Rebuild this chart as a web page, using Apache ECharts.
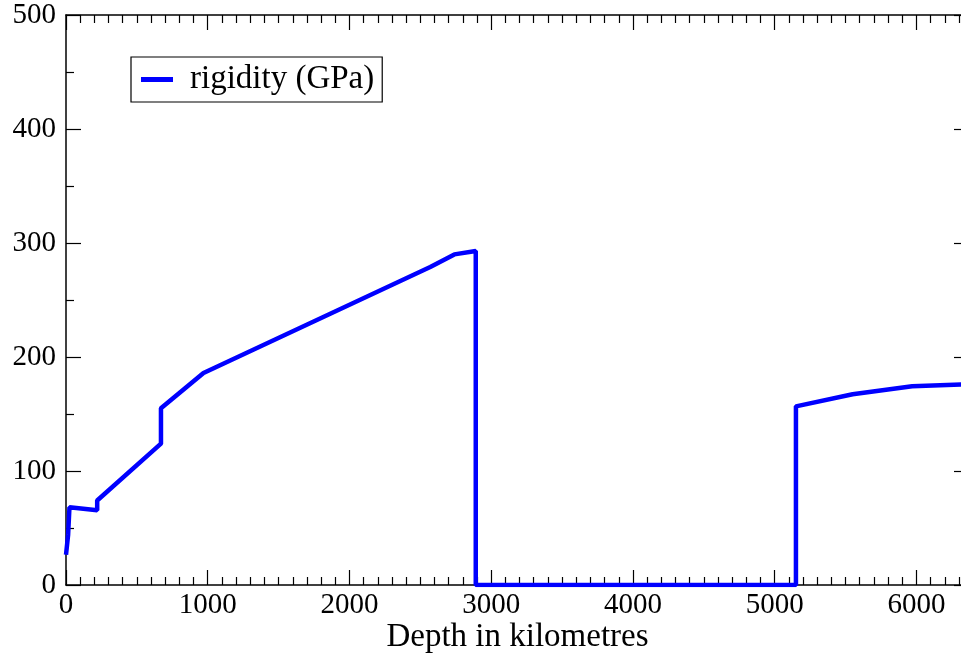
<!DOCTYPE html>
<html>
<head>
<meta charset="utf-8">
<script src="https://cdn.jsdelivr.net/npm/echarts@6/dist/echarts.min.js"></script>
<style>
  html, body { margin: 0; padding: 0; background: #fff; }
  #main { width: 961px; height: 654px; }
</style>
</head>
<body>
<div id="main"></div>
<script>
// depth (km) and rigidity (GPa)
var depth = [0, 15, 24.4, 220, 220, 670, 670, 970, 2570, 2740, 2891, 2891, 5150, 5150, 5550, 5970, 6371];
var rigidity = [26.6, 44.1, 68.2, 65.5, 74.1, 124, 155, 186, 279, 290, 293, 0, 0, 156.7, 167.3, 174.3, 176.1];
var seriesName = 'rigidity (GPa)';
var xTitle = 'Depth in kilometres';

var font = "'Liberation Serif', 'Times New Roman', serif";

var points = depth.map(function (d, i) { return [d, rigidity[i]]; });

var chart = echarts.init(document.getElementById('main'));

// frame axis helper: ticks inside, black line
function frameAxis(extra) {
  var base = {
    type: 'value',
    axisLine: { show: true, onZero: false, lineStyle: { color: '#000', width: 1.5 } },
    axisTick: { show: true, inside: true, length: 15, lineStyle: { color: '#000', width: 1.2 } },
    splitLine: { show: false },
    minorSplitLine: { show: false }
  };
  return Object.assign(base, extra);
}

function plain(v) { return String(v); }

chart.setOption({
  backgroundColor: '#fff',
  animation: false,
  // plot frame runs past the right edge (cropped like the original)
  grid: { left: 66, top: 15, width: 903, bottom: 69, containLabel: false, outerBoundsMode: 'none' },
  legend: {
    left: 131,
    top: 57,
    orient: 'vertical',
    backgroundColor: '#fff',
    borderColor: '#000',
    borderWidth: 1.2,
    padding: [6, 8, 6, 10],
    icon: 'rect',
    itemWidth: 32,
    itemHeight: 5,
    textStyle: { fontFamily: font, fontSize: 33, color: '#000', padding: [0, 0, 0, 12] },
    data: [seriesName]
  },
  xAxis: [
    frameAxis({
      min: 0, max: 6371, interval: 1000, position: 'bottom',
      minorTick: { show: true, splitNumber: 10, length: 8, lineStyle: { color: '#000', width: 1.2 } },
      axisLabel: { fontFamily: font, fontSize: 29, color: '#000', margin: 6, showMaxLabel: false, formatter: plain },
      name: xTitle, nameLocation: 'middle', nameGap: 36, nameMoveOverlap: false,
      nameTextStyle: { fontFamily: font, fontSize: 33, color: '#000' }
    }),
    frameAxis({
      min: 0, max: 6371, interval: 1000, position: 'top',
      minorTick: { show: true, splitNumber: 10, length: 8, lineStyle: { color: '#000', width: 1.2 } },
      axisLabel: { show: false }
    })
  ],
  yAxis: [
    frameAxis({
      min: 0, max: 500, interval: 100, position: 'left',
      minorTick: { show: true, splitNumber: 2, length: 8, lineStyle: { color: '#000', width: 1.2 } },
      axisLabel: { fontFamily: font, fontSize: 29, color: '#000', margin: 10, formatter: plain }
    }),
    frameAxis({
      min: 0, max: 500, interval: 100, position: 'right',
      minorTick: { show: true, splitNumber: 2, length: 8, lineStyle: { color: '#000', width: 1.2 } },
      axisLabel: { show: false }
    })
  ],
  series: [{
    name: seriesName,
    type: 'line',
    xAxisIndex: 0,
    yAxisIndex: 0,
    data: points,
    symbol: 'none',
    color: '#0000ff',
    lineStyle: { color: '#0000ff', width: 4.5 },
    z: 3
  }]
});
</script>
</body>
</html>
